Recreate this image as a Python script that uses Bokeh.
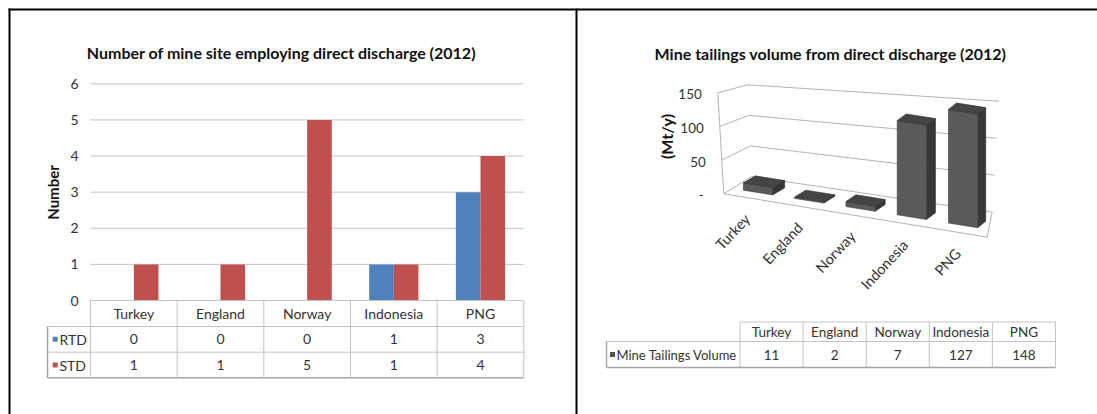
import math
from bokeh.plotting import figure
from bokeh.models import Range1d
from bokeh.embed import file_html
from bokeh.resources import INLINE
from bokeh.core.properties import value

# ---------------- data ----------------
categories = ["Turkey", "England", "Norway", "Indonesia", "PNG"]
series_names = ["RTD", "STD"]
rtd = [0, 0, 0, 1, 3]
std = [1, 1, 5, 1, 4]
left_ticks = [0, 1, 2, 3, 4, 5, 6]
left_title = "Number of mine site employing direct discharge (2012)"
left_ylabel = "Number"

tailings = [11, 2, 7, 127, 148]
right_series = "Mine Tailings Volume"
right_ticks = [0, 50, 100, 150]
right_tick_labels = ["-", "50", "100", "150"]
right_title = "Mine tailings volume from direct discharge (2012)"
right_ylabel = "(Mt/y)"

# ---------------- layout / style ----------------
W, H = 1097, 414
X0, Y0 = 0, 0
FONT = "Lato"
TXT = "#333333"
BLUE, RED = "#4F81BD", "#C0504D"
GRID = "#C4C4C4"
SHADOW = "#A6A6A6"

p = figure(width=W, height=H, x_range=Range1d(X0, X0 + W), y_range=Range1d(Y0 + H, Y0),
           output_backend="svg", toolbar_location=None, min_border=0,
           x_axis_type=None, y_axis_type=None)
p.grid.visible = False
p.outline_line_color = None
p.background_fill_color = "white"
p.border_fill_color = "white"

# black frame lines of the composite
p.segment(x0=[8, 9, 576], y0=[9, 8, 8], x1=[X0 + W, 9, 576], y1=[9, Y0 + H, Y0 + H],
          line_color="black", line_width=2)

# ================= LEFT CHART =================
PX0, PX1 = 90.0, 523.3      # plot area x (page px)
PY0, PYT = 300.0, 83.3      # y of value 0 and of top tick
ymax = left_ticks[-1]
ppu = (PY0 - PYT) / ymax
ncat = len(categories)
cw = (PX1 - PX0) / ncat
p.extra_y_ranges = {"num": Range1d((PY0 - (Y0 + H)) / ppu, (PY0 - Y0) / ppu)}
p.extra_x_ranges = {"cat": Range1d((X0 - PX0) / cw, (X0 + W - PX0) / cw)}

# gridlines
gt = left_ticks[1:]
p.segment(x0=[0] * len(gt), x1=[ncat] * len(gt), y0=gt, y1=gt, x_range_name="cat", y_range_name="num",
          line_color=GRID, line_width=1)

# bars
bw = 0.284
idx = list(range(ncat))
p.vbar(x=[i + 0.5 - bw / 2 for i in idx], top=rtd, bottom=0, width=bw, x_range_name="cat", y_range_name="num",
       fill_color=BLUE, line_color=None)
p.vbar(x=[i + 0.5 + bw / 2 for i in idx], top=std, bottom=0, width=bw, x_range_name="cat", y_range_name="num",
       fill_color=RED, line_color=None)

# y tick labels
p.text(x=[0] * len(left_ticks), y=left_ticks, text=[str(t) for t in left_ticks], x_range_name="cat", y_range_name="num",
       x_offset=-16, text_align="center", text_baseline="middle", text_font=value(FONT),
       text_font_size="14px", text_color=TXT)

# titles
p.text(x=[281], y=[52], text=[left_title], text_align="center", text_baseline="middle",
       text_font=value(FONT), text_font_style="bold", text_font_size="16px", text_color="#111111")
p.text(x=[52], y=[192], text=[left_ylabel], angle=math.pi / 2, text_align="center", text_baseline="middle",
       text_font=value(FONT), text_font_style="bold", text_font_size="15px", text_color="#111111")

# data table
TY = [PY0, 326.0, 351.7, 377.3]
LEGX = 47.0
p.segment(x0=[0], x1=[ncat], y0=[TY[0]], y1=[TY[0]], x_range_name="cat", line_color=GRID, line_width=1)
p.segment(x0=[LEGX, LEGX], x1=[PX1, PX1], y0=TY[1:3], y1=TY[1:3], line_color=GRID, line_width=1)
p.segment(x0=[LEGX], x1=[PX1], y0=[TY[3]], y1=[TY[3]], line_color=SHADOW, line_width=1.5)
p.segment(x0=idx + [ncat], x1=idx + [ncat], y0=[TY[0]] * (ncat + 1), y1=[TY[3]] * (ncat + 1),
          x_range_name="cat", line_color=GRID, line_width=1)
p.segment(x0=[LEGX], x1=[LEGX], y0=[TY[1]], y1=[TY[3]], line_color=SHADOW, line_width=1.5)
hy = (TY[0] + TY[1]) / 2
r1 = (TY[1] + TY[2]) / 2
r2 = (TY[2] + TY[3]) / 2
cx = [i + 0.5 for i in idx]
p.text(x=cx, y=[hy] * ncat, text=categories, x_range_name="cat", text_align="center", text_baseline="middle",
       text_font=value(FONT), text_font_size="14px", text_color=TXT)
p.text(x=cx, y=[r1] * ncat, text=[str(v) for v in rtd], x_range_name="cat", text_align="center",
       text_baseline="middle", text_font=value(FONT), text_font_size="14px", text_color=TXT)
p.text(x=cx, y=[r2] * ncat, text=[str(v) for v in std], x_range_name="cat", text_align="center",
       text_baseline="middle", text_font=value(FONT), text_font_size="14px", text_color=TXT)
p.rect(x=[54.7, 54.7], y=[r1, r2], width=5, height=5, fill_color=[BLUE, RED], line_color=None)
p.text(x=[59, 59], y=[r1, r2], text=series_names, text_align="left", text_baseline="middle",
       text_font=value(FONT), text_font_size="14px", text_color=TXT)

# ================= RIGHT CHART (3-D columns) =================
FL0 = (723.3, 193.3); FR0 = (986.7, 236.7); BR0 = (991.7, 211.7); BL0 = (751.0, 176.0)
FL1 = (717.3, 92.3); BL1 = (747.3, 84.3); BR1 = (998.3, 100.7)
VMAX = right_ticks[-1]
sFL = (FL0[1] - FL1[1]) / VMAX
sBL = (BL0[1] - BL1[1]) / VMAX
sBR = (BR0[1] - BR1[1]) / VMAX
sFR = 0.798


def lerp(a, b, t):
    return (a[0] + (b[0] - a[0]) * t, a[1] + (b[1] - a[1]) * t)


def floor_pt(u, w):
    return lerp(lerp(FL0, FR0, u), lerp(BL0, BR0, u), w)


def vscale(u, w):
    f = sFL + (sFR - sFL) * u
    b = sBL + (sBR - sBL) * u
    return f + (b - f) * w


WALL = "#B4B4B4"
fx = [FL0[0], FR0[0], BR0[0], BL0[0], FL0[0]]
fy = [FL0[1], FR0[1], BR0[1], BL0[1], FL0[1]]
p.line(x=fx, y=fy, line_color=WALL, line_width=1)
p.line(x=[FL0[0], FL1[0]], y=[FL0[1], FL1[1]], line_color=WALL, line_width=1)
gx0, gy0, gx1, gy1, gx2, gy2 = [], [], [], [], [], []
for t in right_ticks[1:]:
    a = lerp(FL0, FL1, t / VMAX)
    b = lerp(BL0, BL1, t / VMAX)
    c = lerp(BR0, BR1, t / VMAX)
    gx0.append(a[0]); gy0.append(a[1]); gx1.append(b[0]); gy1.append(b[1]); gx2.append(c[0]); gy2.append(c[1])
p.segment(x0=gx0, y0=gy0, x1=gx1, y1=gy1, line_color=WALL, line_width=1)
p.segment(x0=gx1, y0=gy1, x1=gx2, y1=gy2, line_color=WALL, line_width=1)

for t, lab in zip(right_ticks, right_tick_labels):
    a = lerp(FL0, FL1, t / VMAX)
    off = -20 if t == 0 else -16
    p.text(x=[a[0]], y=[a[1]], text=[lab], x_offset=off, y_offset=1.5, text_align="right",
           text_baseline="middle", text_font=value(FONT), text_font_size="13.5px", text_color=TXT)
p.text(x=[666], y=[136], text=[right_ylabel], angle=math.pi / 2, text_align="center", text_baseline="middle",
       text_font=value(FONT), text_font_style="bold", text_font_size="16px", text_color="#111111")
p.text(x=[830], y=[53], text=[right_title], text_align="center", text_baseline="middle",
       text_font=value(FONT), text_font_style="bold", text_font_size="16px", text_color="#111111")

n2 = len(tailings)
hu = 0.57 / n2 / 2
wf = 0.31
fxs, fys, sxs, sys_, txs, tys = [], [], [], [], [], []
for i, val in enumerate(tailings):
    uc = (i + 0.5) / n2
    bl = floor_pt(uc - hu, wf)
    br = floor_pt(uc + hu, wf)
    h = val * vscale(uc, wf)
    k = (uc - 0.1) / 0.8
    dx = 12 + (8 - 12) * k
    dy = -7 + (-6.5 + 7) * k
    tl = (bl[0], bl[1] - h)
    tr = (br[0], br[1] - h)
    fxs.append([bl[0], br[0], tr[0], tl[0]]); fys.append([bl[1], br[1], tr[1], tl[1]])
    sxs.append([br[0], br[0] + dx, tr[0] + dx, tr[0]]); sys_.append([br[1], br[1] + dy, tr[1] + dy, tr[1]])
    txs.append([tl[0], tr[0], tr[0] + dx, tl[0] + dx]); tys.append([tl[1], tr[1], tr[1] + dy, tl[1] + dy])
p.patches(xs=sxs, ys=sys_, fill_color="#383838", line_color="#2e2e2e", line_width=0.6)
p.patches(xs=fxs, ys=fys, fill_color="#5a5a5a", line_color="#3a3a3a", line_width=0.6)
p.patches(xs=txs, ys=tys, fill_color="#444444", line_color="#333333", line_width=0.6)

lx, ly = [], []
for i in range(n2):
    pt = floor_pt((i + 0.5) / n2, 0)
    lx.append(pt[0]); ly.append(pt[1])
p.text(x=lx, y=ly, text=categories, angle=math.radians(47), x_offset=-3, y_offset=18, text_align="right",
       text_baseline="middle", text_font=value(FONT), text_font_size="14.5px", text_color=TXT)

RX0, RX1, LX0 = 739.5, 1055.0, 606.0
RY = [321.5, 341.0, 367.0]
rcw = (RX1 - RX0) / n2
vx = [RX0 + rcw * k for k in range(n2 + 1)]
p.segment(x0=vx, x1=vx, y0=[RY[0]] * len(vx), y1=[RY[2]] * len(vx), line_color=GRID, line_width=1)
p.segment(x0=[RX0, LX0], x1=[RX1, RX1], y0=[RY[0], RY[1]], y1=[RY[0], RY[1]], line_color=GRID, line_width=1)
p.segment(x0=[LX0], x1=[RX1], y0=[RY[2]], y1=[RY[2]], line_color=SHADOW, line_width=1.5)
p.segment(x0=[LX0], x1=[LX0], y0=[RY[1]], y1=[RY[2]], line_color=SHADOW, line_width=1.5)
ccx = [RX0 + rcw * (k + 0.5) for k in range(n2)]
p.text(x=ccx, y=[(RY[0] + RY[1]) / 2] * n2, text=categories, text_align="center", text_baseline="middle",
       text_font=value(FONT), text_font_size="13.5px", text_color=TXT)
p.text(x=ccx, y=[(RY[1] + RY[2]) / 2] * n2, text=[str(v) for v in tailings], text_align="center",
       text_baseline="middle", text_font=value(FONT), text_font_size="13.5px", text_color=TXT)
p.rect(x=[612], y=[(RY[1] + RY[2]) / 2], width=5, height=5, fill_color="#505050", line_color=None)
p.text(x=[616], y=[(RY[1] + RY[2]) / 2], text=[right_series], text_align="left", text_baseline="middle",
       text_font=value(FONT), text_font_size="13px", text_color=TXT)

open("out.html", "w").write(file_html(p, INLINE))
